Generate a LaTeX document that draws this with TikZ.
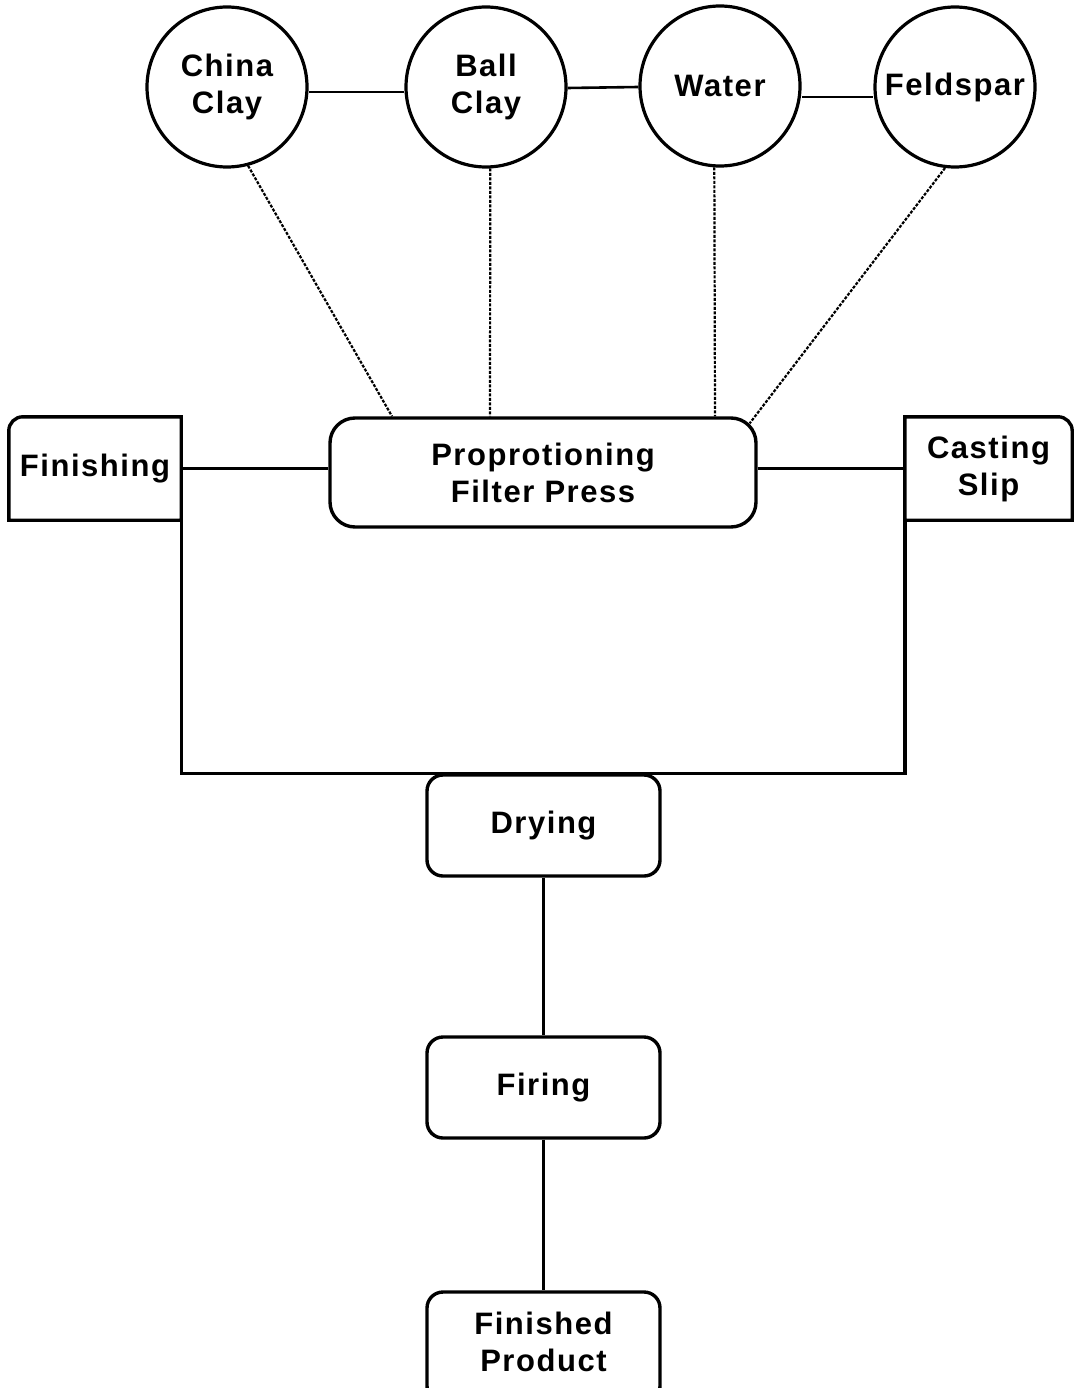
\documentclass[tikz,border=0pt]{standalone}
\usepackage{fontspec}
\setmainfont{Liberation Sans}[LetterSpace=5]
\usetikzlibrary{calc}
\begin{document}
\begin{tikzpicture}[x=1pt,y=-1pt,
  lbl/.style={font=\fontsize{31}{37}\selectfont\bfseries, align=center, inner sep=0pt},
  src/.style={lbl, circle, draw, line width=3.2pt, minimum size=160pt},
  stage/.style={lbl, rectangle, rounded corners=16pt, draw, line width=3.4pt, minimum width=233pt, minimum height=101pt},
  side/.style={lbl, minimum height=103pt},
  boxline/.style={line width=3.4pt},
  link/.style={line width=2.6pt},
  dotlink/.style={line width=2.2pt, dash pattern=on 3pt off 1.5pt}]
\useasboundingbox (0,0) rectangle (1074,1388);
\clip (0,0) rectangle (1074,1388);

% raw material circles
\node[src] (cc) at (227,87) {China\\Clay};
\node[src] (bc) at (486,87) {Ball\\Clay};
\node[src] (wa) at (720,86) {Water};
\node[src] (fs) at (955,87) {Feldspar};

% central press
\node[stage, rounded corners=25pt, minimum width=426pt, minimum height=109pt] (pp) at (543,472.5) {Proprotioning\\Filter Press};

% side boxes
\node[side, minimum width=172pt] (fin) at (95,468.5) {Finishing};
\draw[boxline] (fin.south east) -- (fin.south west) -- ([yshift=-14pt]fin.north west)
  arc[start angle=180, end angle=90, radius=14pt] -- (fin.north east) -- cycle;
\node[side, minimum width=167pt] (cs) at (988.5,468.5) {Casting\\Slip};
\draw[boxline] (cs.south west) -- (cs.north west) -- ([xshift=-14pt]cs.north east)
  arc[start angle=90, end angle=0, radius=14pt] -- (cs.south east) -- cycle;

% process stages
\node[stage] (dr) at (543.5,825.5) {Drying};
\node[stage] (fi) at (543.5,1087.5) {Firing};
\node[stage, minimum height=110pt] (fp) at (543.5,1347) {};
\node[lbl] (fpt) at (543.5,1342) {Finished\\Product};

% links between circles
\draw[link] ([yshift=-5pt]cc.east) -- ([yshift=-5pt]bc.west);
\draw[link] ([yshift=-1pt]bc.east) -- ([yshift=-1pt]wa.west);
\draw[link] ([yshift=-11pt]wa.east) -- ([yshift=-10pt]fs.west);

% dashed feeds
\draw[dotlink] (cc.-75) -- (pp.north -| 392,0);
\draw[dotlink] (bc.-87) -- (pp.north -| 490,0);
\draw[dotlink] (wa.-94) -- (pp.north -| 715,0);
\draw[dotlink] (fs.-97) -- ($(pp.north east)+(-8,7)$);

% side links
\draw[link] (fin.east) -- (fin.east -| pp.west);
\draw[link] (cs.west -| pp.east) -- (cs.west);

% frame to drying
\draw[boxline] (fin.south east) -- (fin.south east |- dr.north) -- (cs.south west |- dr.north) -- (cs.south west);

% vertical chain
\draw[link] (dr) -- (fi);
\draw[link] (fi) -- (fp);
\end{tikzpicture}
\end{document}
